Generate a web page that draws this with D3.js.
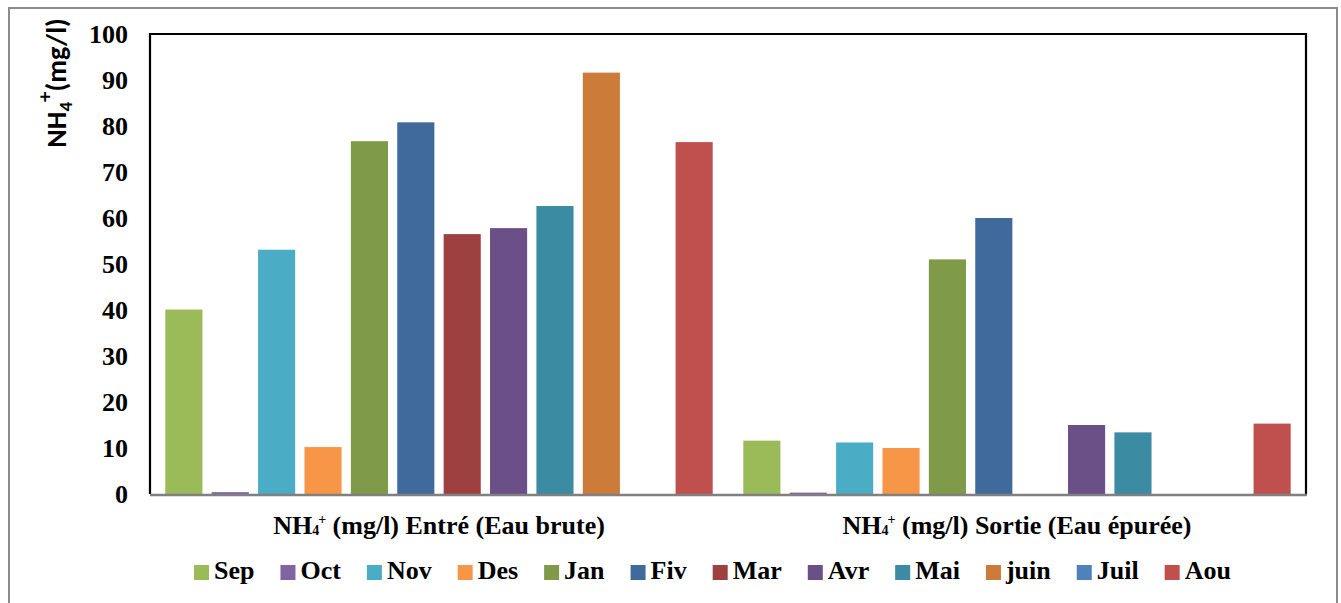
<!DOCTYPE html>
<html>
<head>
<meta charset="utf-8">
<script src="https://cdn.jsdelivr.net/npm/d3@7"></script>
<style>
  html, body { margin: 0; padding: 0; background: #fff; }
  svg { display: block; }
</style>
</head>
<body>
<svg id="chart" width="1341" height="603"></svg>
<script>
// ---- data ----
const groups = ["entree", "sortie"];
const months = ["Sep", "Oct", "Nov", "Des", "Jan", "Fiv", "Mar", "Avr", "Mai", "juin", "Juil", "Aou"];
const colors = ["#9BBB59", "#8064A2", "#4BACC6", "#F79646", "#7F9A48", "#3F6A9B", "#9E403F", "#6A5087", "#3B8BA2", "#CC7B38", "#4F81BD", "#C0504D"];
const valuesEntree = [40.1, 0.4, 53.1, 10.2, 76.7, 80.8, 56.5, 57.8, 62.6, 91.6, 0, 76.5];
const valuesSortie = [11.6, 0.3, 11.2, 10.0, 51.0, 60.0, 0, 15.0, 13.4, 0, 0, 15.3];
const yTicks = [0, 10, 20, 30, 40, 50, 60, 70, 80, 90, 100];

const SERIF = "Liberation Serif";
const SANS = "Carlito";

const svg = d3.select("#chart");
const plot = { left: 150, right: 1306, top: 34, bottom: 494 };

// outer chart border
svg.append("rect").attr("x", 9).attr("y", 8).attr("width", 1328).attr("height", 610)
  .attr("fill", "#fff").attr("stroke", "#8c8c8c").attr("stroke-width", 2);

const x0 = d3.scaleBand().domain(groups).range([plot.left, plot.right]).padding(0);
const x1 = d3.scaleBand().domain(months).range([0, x0.bandwidth()]).paddingInner(0.2).paddingOuter(0.33);
const y = d3.scaleLinear().domain([0, 100]).range([plot.bottom, plot.top]);

const series = { entree: valuesEntree, sortie: valuesSortie };

// bars
groups.forEach(g => {
  const gEl = svg.append("g").attr("transform", `translate(${x0(g)},0)`);
  gEl.selectAll("rect").data(months.map((m, i) => ({ m, v: series[g][i], c: colors[i] })))
    .join("rect")
    .attr("x", d => x1(d.m))
    .attr("width", x1.bandwidth())
    .attr("y", d => y(d.v))
    .attr("height", d => y(0) - y(d.v))
    .attr("fill", d => d.c);
});

// plot frame (left, top, right)
svg.append("path")
  .attr("d", `M${plot.left},${plot.bottom} L${plot.left},${plot.top} L${plot.right},${plot.top} L${plot.right},${plot.bottom}`)
  .attr("fill", "none").attr("stroke", "#000").attr("stroke-width", 2.2);

// bottom axis line
svg.append("line").attr("x1", plot.left).attr("x2", plot.right + 1)
  .attr("y1", y(0) + 1).attr("y2", y(0) + 1)
  .attr("stroke", "#808080").attr("stroke-width", 2.5);

// y axis labels
const yAxis = d3.axisLeft(y).tickValues(yTicks).tickSize(0).tickPadding(22);
const ya = svg.append("g").attr("transform", `translate(${plot.left},0)`).call(yAxis);
ya.select(".domain").remove();
ya.attr("font-family", SERIF).attr("font-size", 26).attr("font-weight", "bold");
ya.selectAll("text").attr("fill", "#000").attr("dy", "0.34em");

// y title
const yt = svg.append("text")
  .attr("transform", "translate(66,83) rotate(-90)")
  .attr("text-anchor", "middle")
  .attr("font-family", SANS).attr("font-weight", "bold")
  .attr("font-size", 28).attr("fill", "#000");
yt.append("tspan").text("NH");
yt.append("tspan").attr("font-size", 19).attr("dy", 6).text("4");
yt.append("tspan").attr("font-size", 21).attr("dy", -20).text("+");
yt.append("tspan").attr("dy", 14).text("(mg/l)");

// category labels
const catLabels = { entree: " (mg/l) Entré (Eau brute)", sortie: " (mg/l) Sortie (Eau épurée)" };
groups.forEach(g => {
  const t = svg.append("text")
    .attr("x", x0(g) + x0.bandwidth() / 2).attr("y", 534)
    .attr("text-anchor", "middle")
    .attr("font-family", SERIF).attr("font-weight", "bold")
    .attr("font-size", 26).attr("fill", "#000");
  t.append("tspan").text("NH");
  t.append("tspan").attr("font-size", 14).attr("dy", 1).text("4");
  t.append("tspan").attr("font-size", 14).attr("dx", -1).attr("dy", -11).text("+");
  t.append("tspan").attr("dy", 10).text(catLabels[g]);
});

// legend
const leg = svg.append("g");
let lx = 194;
months.forEach((m, i) => {
  leg.append("rect").attr("x", lx).attr("y", 565).attr("width", 15).attr("height", 15).attr("fill", colors[i]);
  const t = leg.append("text").attr("x", lx + 20).attr("y", 579)
    .attr("font-family", SERIF).attr("font-weight", "bold")
    .attr("font-size", 26).attr("fill", "#000").text(m);
  lx += 20 + t.node().getComputedTextLength() + 26;
});
</script>
</body>
</html>
